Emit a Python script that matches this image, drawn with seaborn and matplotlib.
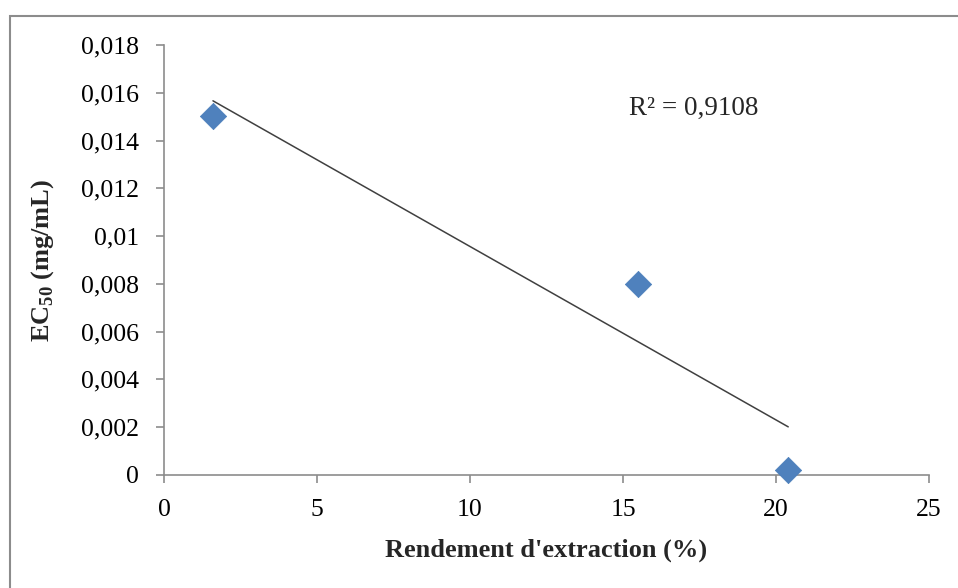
import pandas as pd
import matplotlib.pyplot as plt
import matplotlib.patches as mpatches
import seaborn as sns
import numpy as np

# Data
rendement = [1.6, 15.5, 20.4]
ec50 = [0.01503, 0.0080, 0.00022]
r2_label = 'R² = 0,9108'
ytick_labels = ['0', '0,002', '0,004', '0,006', '0,008', '0,01',
                '0,012', '0,014', '0,016', '0,018']

df = pd.DataFrame({'Rendement': rendement, 'EC50': ec50})

sns.set_style('white')
plt.rcParams['font.family'] = ['Liberation Serif', 'DejaVu Serif']
plt.rcParams['mathtext.fontset'] = 'custom'
plt.rcParams['mathtext.bf'] = 'Liberation Serif:bold'
plt.rcParams['mathtext.rm'] = 'Liberation Serif'

fig = plt.figure(figsize=(9.58, 5.88), dpi=100)
ax = fig.add_axes([0.1712, 0.1922, 0.7985, 0.7313])

# linear trendline over the data range
sns.regplot(data=df, x='Rendement', y='EC50', scatter=False, ci=None,
            truncate=True, color='#404040', line_kws={'lw': 1.1}, ax=ax)
sns.scatterplot(data=df, x='Rendement', y='EC50', marker='D', s=180,
                color='#4F81BD', edgecolor='#4A7EBB', linewidth=0.5,
                zorder=3, clip_on=False, ax=ax)

ax.set_xlim(0, 25)
ax.set_ylim(0, 0.018)
ax.set_xticks([0, 5, 10, 15, 20, 25])
ax.set_yticks(np.arange(0, 0.0181, 0.002))
ax.set_yticklabels(ytick_labels)

for side in ['top', 'right']:
    ax.spines[side].set_visible(False)
for side in ['left', 'bottom']:
    ax.spines[side].set_color('#8C8C8C')
    ax.spines[side].set_linewidth(1.2)
ax.tick_params(axis='both', direction='out', length=6, width=1.2,
               color='#8C8C8C', labelsize=18.5, labelcolor='black')
ax.tick_params(axis='y', left=True, pad=12)
ax.tick_params(axis='x', bottom=True, pad=11)

ax.set_xlabel("Rendement d'extraction (%)", fontsize=19, fontweight='bold', labelpad=13)
ax.set_ylabel(r'EC$_{\mathbf{50}}$ (mg/mL)', fontsize=19, fontweight='bold', labelpad=18)

ax.text(15.2, 0.01536, r2_label, fontsize=19.5, va='center', ha='left')

# outer chart frame
fig.patches.append(mpatches.Rectangle((10 / 958, -0.05), 1.2, 1 - 16 / 588 + 0.05,
                                      transform=fig.transFigure, fill=False,
                                      edgecolor='#8C8C8C', lw=1.5))

fig.savefig('out.png', dpi=100)
